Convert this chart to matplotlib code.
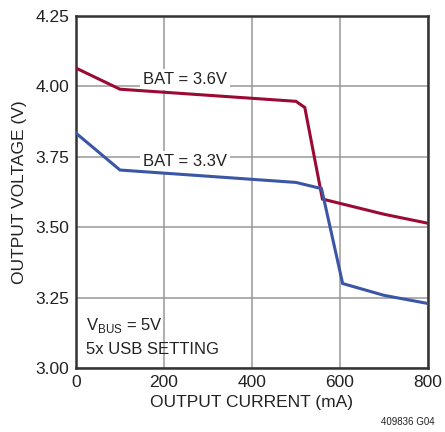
import matplotlib
matplotlib.use('Agg')
import matplotlib.pyplot as plt

# output current (mA) vs output voltage (V)
i_bat36 = [0, 100, 500, 520, 560, 700, 800]
v_bat36 = [4.065, 3.990, 3.947, 3.925, 3.600, 3.546, 3.514]
i_bat33 = [0, 100, 500, 558, 606, 700, 800]
v_bat33 = [3.834, 3.703, 3.659, 3.637, 3.300, 3.258, 3.229]

xticks = [0, 200, 400, 600, 800]
yticks = [3.00, 3.25, 3.50, 3.75, 4.00, 4.25]
ytick_labels = ['3.00', '3.25', '3.50', '3.75', '4.00', '4.25']

plt.rcParams['font.family'] = ['Liberation Sans', 'DejaVu Sans']

fig = plt.figure(figsize=(4.45, 4.32), dpi=100)
ax = fig.add_axes([76/445, 1-368/432, 352/445, 352/432])

red = '#9b0a33'
blue = '#3a56a5'
ax.plot(i_bat36, v_bat36, color=red, lw=2.2, solid_joinstyle='miter', zorder=3)
ax.plot(i_bat33, v_bat33, color=blue, lw=2.2, solid_joinstyle='miter', zorder=3)

ax.set_xlim(0, 800)
ax.set_ylim(3.0, 4.25)
ax.set_xticks(xticks)
ax.set_yticks(yticks)
ax.set_yticklabels(ytick_labels)
ax.tick_params(length=0, labelsize=12.5, pad=5, colors='#222222')
ax.grid(True, color='#999999', lw=1.1)
for s in ax.spines.values():
    s.set_linewidth(1.8)
    s.set_color('#333333')

ax.set_xlabel('OUTPUT CURRENT (mA)', fontsize=12.5, color='#222222', labelpad=4)
ax.set_ylabel('OUTPUT VOLTAGE (V)', fontsize=12.5, color='#222222', labelpad=6)

box = dict(facecolor='white', edgecolor='none', pad=2)
ax.text(248, 4.024, 'BAT = 3.6V', fontsize=12, ha='center', va='center', bbox=box, zorder=2.5, color='#222222')
ax.text(248, 3.733, 'BAT = 3.3V', fontsize=12, ha='center', va='center', bbox=box, zorder=2.5, color='#222222')
ax.text(22, 3.15, r'V$_{\mathregular{BUS}}$ = 5V', fontsize=12, ha='left', va='center', color='#222222', zorder=4)
ax.text(22, 3.065, '5x USB SETTING', fontsize=12, ha='left', va='center', color='#222222', zorder=4)

fig.text(408/445, 1-422/432, '409836 G04', fontsize=7, ha='center', va='center', color='#222222')

fig.savefig('out.png', dpi=100)
